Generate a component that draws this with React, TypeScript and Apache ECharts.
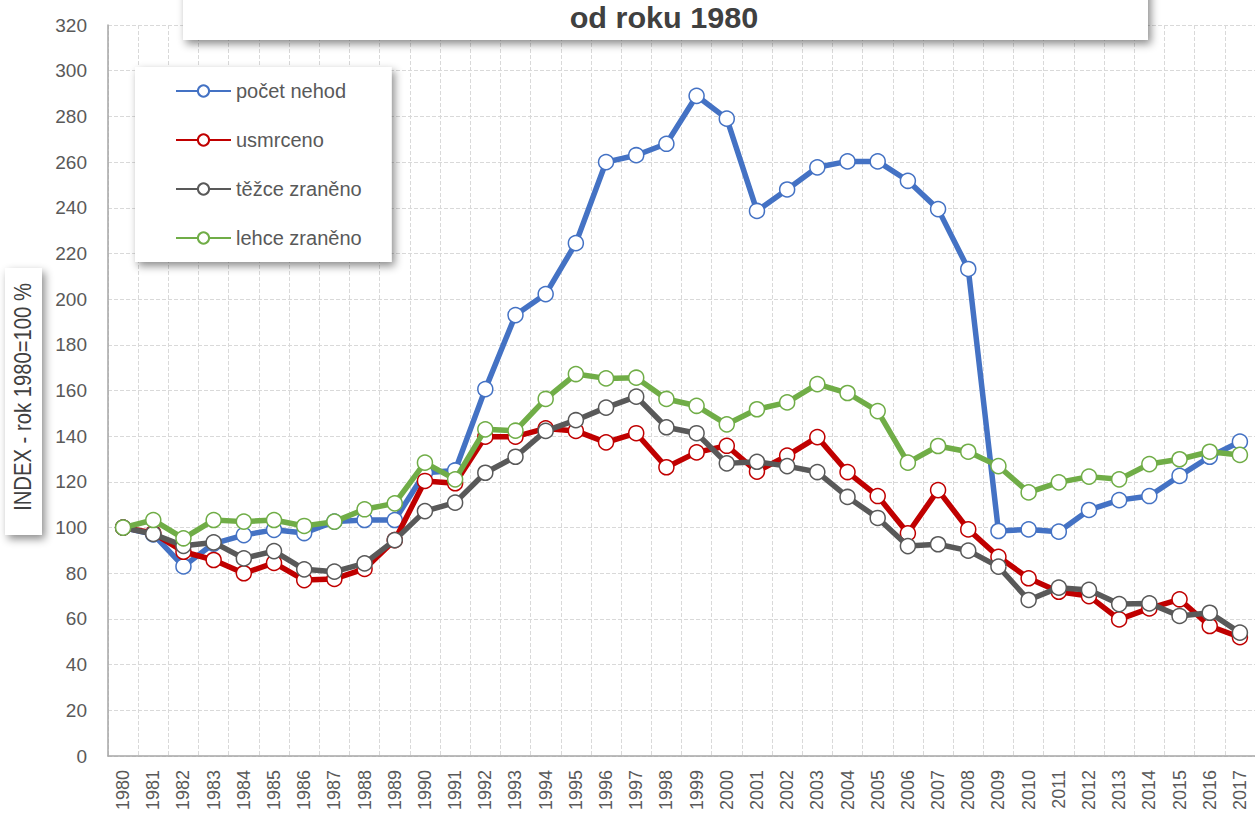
import React, { useEffect, useRef } from "react";
import * as echarts from "echarts";

const years = [
  "1980","1981","1982","1983","1984","1985","1986","1987","1988","1989",
  "1990","1991","1992","1993","1994","1995","1996","1997","1998","1999",
  "2000","2001","2002","2003","2004","2005","2006","2007","2008","2009",
  "2010","2011","2012","2013","2014","2015","2016","2017",
];

const pocetNehod = [
  100, 97, 83, 93, 96.7, 99, 97.6, 102.6, 103.3, 103.3,
  124, 125, 160.6, 193, 202.2, 224.5, 260, 263, 268, 289,
  279, 238.6, 248, 257.7, 260.3, 260.3, 251.8, 239.4, 213.2, 98.5,
  99.2, 98.2, 107.7, 112, 113.8, 122.6, 131, 137.6,
];

const usmrceno = [
  100, 97.6, 89.4, 85.8, 80, 84.5, 77, 77.5, 81.9, 94.5,
  120.4, 119.4, 139.8, 139.8, 143.4, 142.3, 137.3, 141.3, 126.4, 132.9,
  135.8, 124.5, 131.5, 139.6, 124.3, 113.8, 97.5, 116.4, 99.2, 87.2,
  77.8, 71.9, 70, 59.8, 64.6, 68.6, 56.9, 52,
];

const tezceZraneno = [
  100, 97.2, 92, 93.5, 86.5, 89.7, 81.7, 80.7, 84.3, 94.5,
  107.2, 110.9, 124, 131, 142.3, 147, 152.5, 157.3, 143.9, 141.3,
  128.1, 128.8, 126.9, 124.3, 113.4, 104.2, 91.9, 92.7, 89.9, 82.9,
  68.3, 73.7, 72.7, 66.5, 66.8, 61.3, 62.7, 54,
];

const lehceZraneno = [
  100, 103.3, 95.3, 103.3, 102.6, 103.3, 100.7, 102.6, 108, 110.6,
  128.4, 121.1, 143, 142.4, 156.3, 167.2, 165.3, 165.6, 156.3, 153.3,
  145.2, 151.8, 154.8, 162.8, 158.9, 151, 128.4, 135.7, 133.2, 126.9,
  115.4, 119.8, 122.3, 121.1, 127.8, 129.9, 133.2, 131.8,
];

const seriesNames = ["počet nehod", "usmrceno", "těžce zraněno", "lehce zraněno"];
const seriesColors = ["#4472C4", "#C00000", "#595959", "#70AD47"];
const seriesData = [pocetNehod, usmrceno, tezceZraneno, lehceZraneno];

const titleText = "od roku 1980";
const yAxisTitle = "INDEX - rok 1980=100 %";

const SANS = "'Liberation Sans', Arial, sans-serif";

export default function App() {
  const ref = useRef<HTMLDivElement>(null);
  useEffect(() => {
    if (!ref.current) return;
    const chart = echarts.init(ref.current, undefined, { renderer: "svg" });
    const shadow = {
      shadowBlur: 8,
      shadowOffsetX: 3,
      shadowOffsetY: 4,
      shadowColor: "rgba(0,0,0,0.45)",
    };
    chart.setOption({
      animation: false,
      backgroundColor: "#ffffff",
      grid: { left: 108, top: 25, width: 1153, height: 731, containLabel: false },
      xAxis: {
        type: "category",
        data: years,
        boundaryGap: true,
        axisLine: { show: true, lineStyle: { color: "#A6A6A6", width: 1.5 } },
        axisTick: { show: false },
        axisLabel: {
          rotate: 90,
          interval: 0,
          margin: 14,
          fontSize: 18,
          color: "#595959",
          fontFamily: SANS,
        },
        splitLine: {
          show: true,
          interval: 0,
          lineStyle: { color: "#D9D9D9", type: "dashed", width: 1 },
        },
      },
      yAxis: {
        type: "value",
        min: 0,
        max: 320,
        interval: 20,
        axisLine: { show: true, lineStyle: { color: "#A6A6A6", width: 1.5 } },
        axisTick: { show: false },
        axisLabel: { fontSize: 19, color: "#595959", margin: 21, fontFamily: SANS },
        splitLine: { lineStyle: { color: "#D9D9D9", type: "dashed", width: 1 } },
      },
      legend: {
        orient: "vertical",
        left: 135,
        top: 67,
        padding: [14, 30, 14, 40],
        itemWidth: 55,
        itemHeight: 14,
        itemGap: 29,
        backgroundColor: "#ffffff",
        ...shadow,
        textStyle: { fontSize: 20, color: "#595959", fontFamily: SANS, lineHeight: 20 },
        data: seriesNames,
      },
      series: seriesNames.map((name, i) => ({
        name,
        type: "line",
        data: seriesData[i],
        symbol: "circle",
        symbolSize: 15,
        lineStyle: { color: seriesColors[i], width: 5.5 },
        itemStyle: { color: "#ffffff", borderColor: seriesColors[i], borderWidth: 1.5 },
        emphasis: { disabled: true },
        z: 2 + i,
      })),
      graphic: [
        {
          type: "rect",
          z: 100,
          shape: { x: 183, y: -30, width: 965, height: 70 },
          style: { fill: "#ffffff", ...shadow },
        },
        {
          type: "text",
          z: 101,
          x: 664,
          y: 18,
          scaleX: 1.02,
          style: {
            text: titleText,
            font: `bold 30px ${SANS}`,
            fill: "#404040",
            align: "center",
            verticalAlign: "middle",
          },
        },
        {
          type: "rect",
          z: 100,
          shape: { x: 5, y: 268, width: 37, height: 267 },
          style: { fill: "#ffffff", ...shadow },
        },
        {
          type: "text",
          z: 101,
          x: 23,
          y: 397,
          rotation: Math.PI / 2,
          scaleX: 0.88,
          style: {
            text: yAxisTitle,
            font: `23px ${SANS}`,
            fill: "#404040",
            align: "center",
            verticalAlign: "middle",
          },
        },
      ],
    });
    return () => chart.dispose();
  }, []);
  return (
    <div
      ref={ref}
      style={{ position: "fixed", left: 0, top: 0, width: 1255, height: 814 }}
    />
  );
}
